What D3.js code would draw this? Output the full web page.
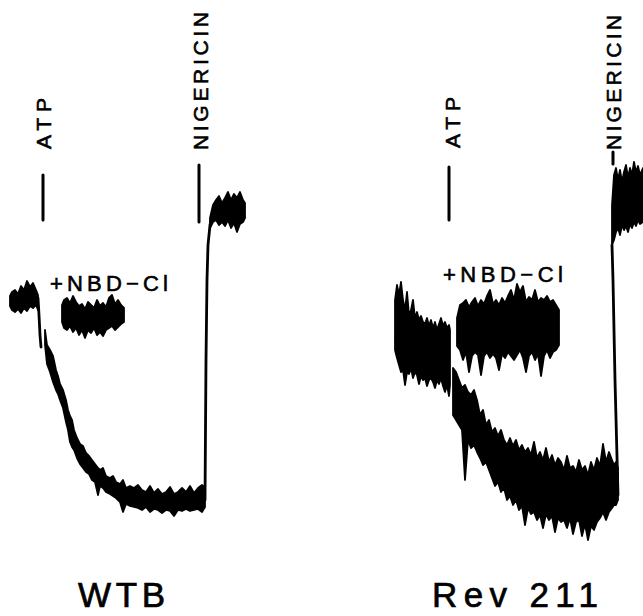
<!DOCTYPE html>
<html><head><meta charset="utf-8">
<script src="https://cdn.jsdelivr.net/npm/d3@7"></script>
<style>html,body{margin:0;padding:0;background:#fff;} svg{display:block;background:#fff}</style>
</head><body>
<svg id="chart" width="643" height="616"></svg>
<script>
// ---------------- DATA (time in s, fluorescence in arbitrary units) ----------------
// each trace point: [time, upper envelope, lower envelope]
const panelNames = ["WTB", "Rev 211"];

// WTB
const wtbEvents = [{label: "ATP", t: 43}, {label: "NIGERICIN", t: 199}];
const wtbTreatLabel = "+NBD\u2212Cl";
const wtbBaseline = [[10,234,224],[12,238,220],[15,240,218],[18,236,221],[21,244,217],[24,240,222],[27,249,219],[30,243,224],[33,247,222],[36,240,225],[38,235,220]];
const wtbAtpDrop = [[38,232],[39,215],[40,195],[41,183]];
const wtbDecay = [[45,200,185],[47,185,166],[50,180,158],[53,174,148],[56,160,140],[58,154,136],[60,146,130],[63,140,122],[66,130,108],[68,120,100],[70,114,88],[72,110,83],[74,100,80],[77,92,72],[80,86,66],[83,84,62],[86,77,58],[89,74,56],[92,70,50],[95,66,48],[98,62,35],[100,60,44],[103,62,42],[106,54,38],[110,52,36],[113,54,34],[116,48,32],[120,46,28],[123,50,18],[126,42,26],[130,44,24],[134,42,23],[138,45,22],[142,40,20],[146,38,23],[150,44,18],[154,37,21],[158,41,20],[162,36,17],[166,38,20],[170,43,19],[174,36,14],[178,38,20],[182,42,19],[186,38,21],[190,44,19],[194,37,20],[198,42,21],[202,45,18],[205,42,23]];
const wtbNigRise = [[205,30],[206,170],[207,250],[208,285],[210,305],[213,318]];
const wtbNigPlateau = [[210,312,302],[213,325,308],[216,330,310],[219,334,305],[222,327,308],[225,332,304],[228,338,310],[231,330,302],[234,336,307],[237,332,298],[240,338,306],[243,330,308],[245,327,312]];
const wtbNBD = [[62,225,208],[64,230,202],[67,232,200],[70,227,204],[73,234,198],[76,228,202],[79,224,195],[82,226,200],[85,221,192],[88,228,200],[91,225,197],[94,222,202],[97,230,195],[100,224,198],[103,227,194],[106,223,200],[109,232,202],[112,235,204],[115,226,200],[118,230,203],[121,225,206],[124,222,208]];

// Rev 211
const revEvents = [{label: "ATP", t: 69}, {label: "NIGERICIN", t: 233}];
const revTreatLabel = "+NBD\u2212Cl";
const revBaseline = [[15,230,180],[17,245,172],[19,235,165],[21,248,158],[23,230,160],[25,220,145],[27,238,158],[29,215,156],[31,220,162],[33,230,152],[35,212,158],[37,218,155],[39,210,146],[41,214,154],[43,208,150],[45,206,152],[47,212,144],[49,204,150],[51,210,152],[53,202,148],[55,208,142],[57,200,150],[59,206,146],[61,212,152],[63,204,144],[65,208,138],[67,202,145],[69,205,134],[70,200,145]];
const revDecay = [[73,162,115],[76,158,110],[79,150,105],[82,142,100],[85,145,50],[88,138,90],[91,135,82],[94,140,85],[97,130,78],[100,115,72],[103,120,65],[106,105,68],[109,110,60],[112,98,52],[115,102,44],[118,94,48],[121,100,38],[124,90,42],[127,85,30],[130,92,34],[133,84,25],[136,90,30],[139,80,20],[142,85,24],[145,78,5],[148,82,22],[151,75,16],[154,88,18],[157,72,10],[160,78,15],[163,70,2],[166,82,16],[169,68,10],[172,75,14],[175,65,-2],[178,72,12],[181,68,8],[184,60,10],[187,74,2],[190,62,12],[193,64,-4],[196,58,8],[199,70,10],[202,60,-6],[205,64,6],[208,55,-10],[211,68,4],[214,60,0],[217,72,8],[220,64,12],[223,86,18],[226,68,10],[229,78,18],[232,70,22],[234,65,25],[236,68,25],[238,62,30]];
const revNigRise = [[238,35],[235,150],[233,250],[232,285]];
const revNigPlateau = [[232,325,285],[234,355,290],[236,362,298],[238,350,302],[240,360,295],[242,348,305],[244,358,300],[246,365,304],[248,352,298],[250,362,306],[252,355,302],[254,368,308],[256,358,304],[258,364,310],[260,355,306],[263,362,308]];
const revNBD = [[77,212,184],[80,225,180],[83,227,170],[86,230,178],[89,223,158],[92,228,174],[95,232,178],[98,224,175],[101,230,155],[104,226,174],[107,234,178],[110,240,172],[113,226,176],[116,230,172],[119,225,160],[122,232,176],[125,227,172],[128,234,178],[131,240,174],[134,230,170],[137,246,175],[140,238,180],[143,244,172],[146,228,158],[149,233,174],[152,230,178],[155,240,170],[158,228,176],[161,232,154],[164,230,174],[167,234,180],[170,228,172],[173,230,178],[176,225,180],[179,220,185]];

// ---------------- LAYOUT ----------------
const svg = d3.select("#chart");
svg.append("rect").attr("width", 643).attr("height", 616).attr("fill", "#fff");
const FONT = "'Liberation Sans', Arial, Helvetica, sans-serif";

const panels = [
  {
    name: panelNames[0], xr: [0, 260], xd: [0, 260],
    bands: [wtbBaseline, wtbNBD, wtbDecay, wtbNigPlateau],
    lines: [wtbAtpDrop, wtbNigRise],
    events: wtbEvents,
    ticks: [[355, 310], [365, 308]],
    evText: [{dx: 8, yb: 149, len: 51}, {dx: 9, yb: 150, len: 138}],
    treat: wtbTreatLabel, treatPos: {x: 50, y: 291, len: 118},
    title: {x: 78, y: 607, len: 87}
  },
  {
    name: panelNames[1], xr: [380, 643], xd: [0, 263],
    bands: [revBaseline, revNBD, revDecay, revNigPlateau],
    lines: [revNigRise],
    events: revEvents,
    ticks: [[363, 310], [378, 366]],
    evText: [{dx: 11, yb: 148, len: 51}, {dx: 8, yb: 150, len: 135}],
    treat: revTreatLabel, treatPos: {x: 443, y: 282, len: 120},
    title: {x: 432, y: 607, len: 166}
  }
];

panels.forEach(p => {
  const x = d3.scaleLinear().domain(p.xd).range(p.xr);
  const y = d3.scaleLinear().domain([0, 400]).range([530, 130]);
  const g = svg.append("g");

  const area = d3.area().x(d => x(d[0])).y0(d => y(d[2])).y1(d => y(d[1]));
  p.bands.forEach(b => {
    g.append("path").datum(b).attr("d", area)
      .attr("fill", "#000").attr("stroke", "#000").attr("stroke-width", 1.8)
      .attr("stroke-linejoin", "round");
  });
  const line = d3.line().x(d => x(d[0])).y(d => y(d[1]));
  p.lines.forEach(l => {
    g.append("path").datum(l).attr("d", line)
      .attr("fill", "none").attr("stroke", "#000").attr("stroke-width", 2.8)
      .attr("stroke-linecap", "round");
  });

  p.events.forEach((e, i) => {
    const tk = p.ticks[i];
    g.append("line").attr("x1", x(e.t)).attr("x2", x(e.t))
      .attr("y1", y(tk[0])).attr("y2", y(tk[1]))
      .attr("stroke", "#000").attr("stroke-width", 3).attr("stroke-linecap", "round");
    const et = p.evText[i];
    g.append("text")
      .attr("transform", `translate(${x(e.t) + et.dx},${et.yb}) rotate(-90)`)
      .attr("font-family", FONT).attr("font-size", 21).attr("fill", "#000")
      .attr("stroke", "#000").attr("stroke-width", 0.6)
      .attr("textLength", et.len).attr("lengthAdjust", "spacing")
      .text(e.label);
  });

  g.append("text").attr("x", p.treatPos.x).attr("y", p.treatPos.y)
    .attr("font-family", FONT).attr("font-size", 22).attr("fill", "#000")
    .attr("stroke", "#000").attr("stroke-width", 0.6)
    .attr("textLength", p.treatPos.len).attr("lengthAdjust", "spacing")
    .text(p.treat);

  g.append("text").attr("x", p.title.x).attr("y", p.title.y)
    .attr("font-family", FONT).attr("font-size", 35).attr("fill", "#000")
    .attr("stroke", "#000").attr("stroke-width", 0.7)
    .attr("textLength", p.title.len).attr("lengthAdjust", "spacing")
    .text(p.name);
});
</script>
</body></html>
